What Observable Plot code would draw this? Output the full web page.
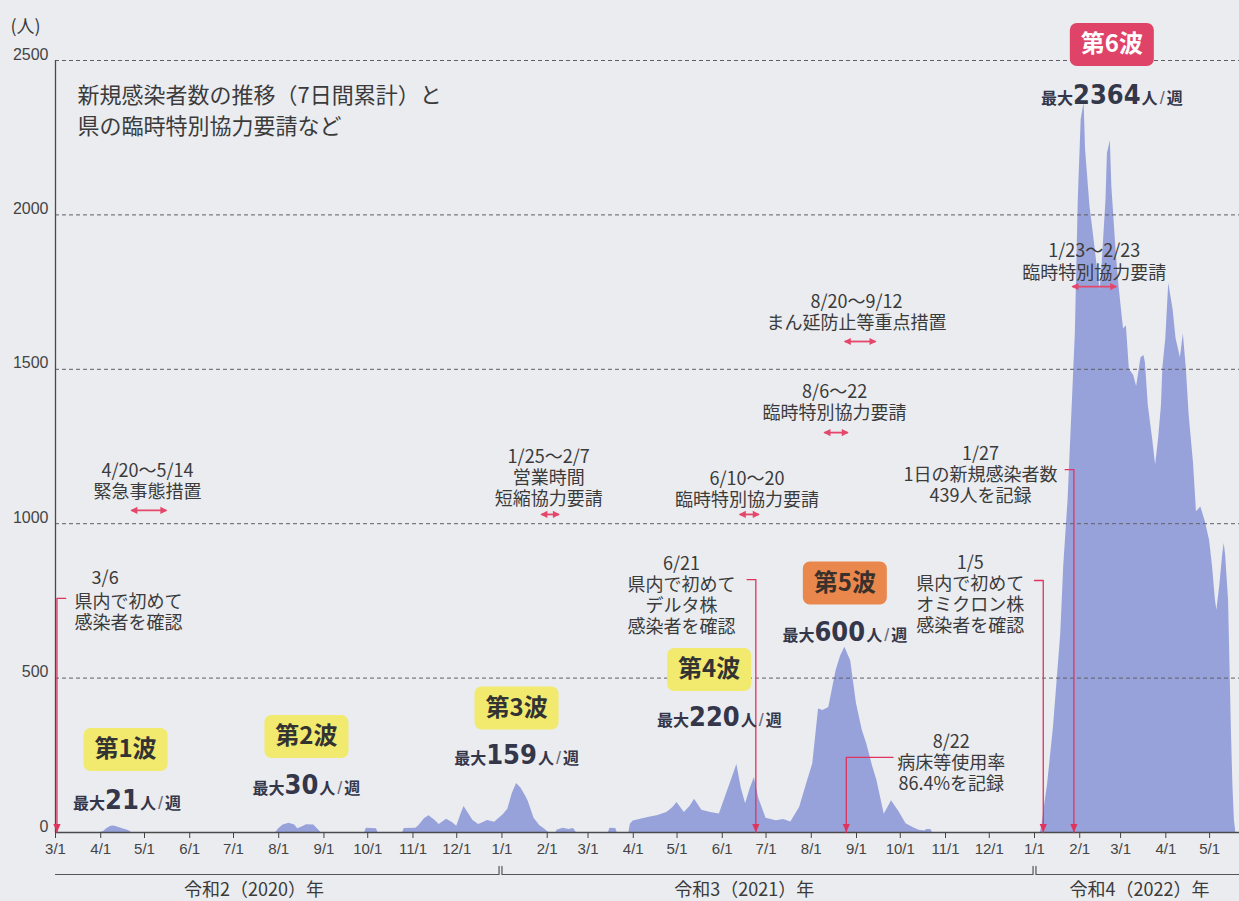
<!DOCTYPE html>
<html><head><meta charset="utf-8">
<script src="https://cdn.jsdelivr.net/npm/d3@7"></script>
<script src="https://cdn.jsdelivr.net/npm/@observablehq/plot@0.6"></script>
<style>
html,body{margin:0;padding:0;background:#eaecf0;}
#chart{width:1239px;height:901px;}
svg{display:block;}
</style></head><body><div id="chart"></div>
<script>
// ---- data (7-day cumulative new cases) ----
const caseDates = [
"2020-03-01","2020-04-01","2020-04-03","2020-04-05","2020-04-08","2020-04-10","2020-04-13","2020-04-16","2020-04-19","2020-04-21","2020-04-22",
"2020-07-30","2020-08-01","2020-08-04","2020-08-08","2020-08-12","2020-08-14","2020-08-17","2020-08-20","2020-08-25","2020-08-28","2020-08-30",
"2020-09-29","2020-09-30","2020-10-07","2020-10-08","2020-10-25","2020-10-26","2020-11-03",
"2020-11-05","2020-11-09","2020-11-12","2020-11-16","2020-11-19","2020-11-24","2020-11-28","2020-12-01","2020-12-04","2020-12-06","2020-12-09","2020-12-12","2020-12-16","2020-12-20","2020-12-22","2020-12-27",
"2021-01-02","2021-01-05","2021-01-08","2021-01-11","2021-01-14","2021-01-17","2021-01-19","2021-01-23","2021-01-27","2021-01-30","2021-02-02",
"2021-02-07","2021-02-08","2021-02-12","2021-02-16","2021-02-19","2021-02-21",
"2021-03-15","2021-03-16","2021-03-20","2021-03-21",
"2021-03-29","2021-03-30","2021-04-01","2021-04-06","2021-04-12","2021-04-18","2021-04-24","2021-04-28","2021-05-01","2021-05-06","2021-05-10","2021-05-13","2021-05-18","2021-05-24","2021-05-30",
"2021-06-04","2021-06-08","2021-06-11","2021-06-14","2021-06-17","2021-06-20","2021-06-23","2021-06-26","2021-07-01","2021-07-08","2021-07-13","2021-07-18",
"2021-07-24","2021-07-29","2021-08-02","2021-08-06","2021-08-09","2021-08-13","2021-08-18","2021-08-21","2021-08-24","2021-08-28","2021-09-01","2021-09-05","2021-09-08","2021-09-12","2021-09-15","2021-09-20","2021-09-23","2021-09-25","2021-09-30","2021-10-05","2021-10-10","2021-10-14","2021-10-18","2021-10-19","2021-10-22","2021-10-23",
"2022-01-05","2022-01-06","2022-01-10","2022-01-14","2022-01-19","2022-01-21","2022-01-24","2022-01-26","2022-01-27","2022-01-29","2022-01-31","2022-02-02","2022-02-04","2022-02-05","2022-02-08","2022-02-10","2022-02-13","2022-02-15","2022-02-16","2022-02-19","2022-02-20","2022-02-22","2022-02-23","2022-02-26","2022-02-28",
"2022-03-03","2022-03-05","2022-03-07","2022-03-10","2022-03-12","2022-03-15","2022-03-17","2022-03-18","2022-03-20","2022-03-23","2022-03-25","2022-03-27","2022-03-29","2022-03-30",
"2022-04-01","2022-04-03","2022-04-06","2022-04-08","2022-04-11","2022-04-13","2022-04-15","2022-04-17","2022-04-20","2022-04-22","2022-04-25","2022-04-28",
"2022-05-01","2022-05-03","2022-05-05","2022-05-06","2022-05-08","2022-05-10","2022-05-11","2022-05-12","2022-05-14","2022-05-15","2022-05-16","2022-05-17","2022-05-18","2022-05-19"
];
const caseCounts = [
0,0,3,12,20,21,17,12,8,4,0,
0,12,24,30,24,12,18,25,24,10,0,
0,14,12,0,0,13,14,
22,45,54,40,26,43,32,20,60,84,62,40,26,34,39,33,
58,75,125,159,144,120,101,46,22,12,0,
0,8,14,10,13,0,
0,14,13,0,
0,27,37,43,49,55,65,80,97,65,85,108,72,65,60,
126,180,220,144,93,140,178,111,46,38,42,34,
81,160,222,400,395,405,524,570,600,556,417,330,287,215,168,59,85,103,68,28,15,7,5,10,10,0,
0,20,158,341,644,860,1077,1293,1400,1618,2049,2309,2364,2211,2027,1952,1832,1757,1811,2049,2200,2240,2092,1877,1765,
1631,1640,1500,1480,1444,1537,1545,1522,1382,1273,1190,1273,1382,1506,
1600,1779,1693,1600,1537,1615,1506,1350,1195,1039,1054,1008,
946,862,752,720,800,900,937,898,752,535,321,150,40,0
];
const yTicks = [0, 500, 1000, 1500, 2000, 2500];
const gridValues = [500, 1000, 1500, 2000, 2500];
const waveNames = ["第1波", "第2波", "第3波", "第4波", "第5波", "第6波"];
const wavePeaks = [21, 30, 159, 220, 600, 2364];
const yearNames = ["令和2（2020）年", "令和3（2021）年", "令和4（2022）年"];
const titleText = "新規感染者数の推移（7日間累計）と\n県の臨時特別協力要請など";
const unitText = "(人)";

// ---- layout of annotations (anchors in data space) ----
const parse = d3.utcParse("%Y-%m-%d");
const xStart = parse("2020-03-01");
const xEnd = new Date(Date.UTC(2022, 4, 21, 12));

const notes = [
  {x: "2020-05-03", y: 1201, text: "4/20～5/14\n緊急事態措置"},
  {x: "2020-04-04", y: 852, text: "3/6"},
  {x: "2020-04-20", y: 777, text: "県内で初めて\n感染者を確認"},
  {x: "2021-02-02", y: 1247, text: "1/25～2/7\n営業時間\n短縮協力要請"},
  {x: "2021-06-18", y: 1175, text: "6/10～20\n臨時特別協力要請"},
  {x: "2021-08-17", y: 1457, text: "8/6～22\n臨時特別協力要請"},
  {x: "2021-09-01", y: 1749, text: "8/20～9/12\nまん延防止等重点措置"},
  {x: "2021-05-04", y: 900, text: "6/21\n県内で初めて\nデルタ株\n感染者を確認"},
  {x: "2021-11-05", y: 324, text: "8/22\n病床等使用率\n86.4%を記録"},
  {x: "2021-11-25", y: 1256, text: "1/27\n1日の新規感染者数\n439人を記録"},
  {x: "2021-11-18", y: 903, text: "1/5\n県内で初めて\nオミクロン株\n感染者を確認"},
  {x: "2022-02-11", y: 1911, text: "1/23～2/23\n臨時特別協力要請"}
];
const ranges = [
  {x1: "2020-04-22", x2: "2020-05-16", y: 1043},
  {x1: "2021-01-28", x2: "2021-02-09", y: 1030},
  {x1: "2021-06-13", x2: "2021-06-26", y: 1030},
  {x1: "2021-08-10", x2: "2021-08-26", y: 1295},
  {x1: "2021-08-24", x2: "2021-09-14", y: 1590},
  {x1: "2022-01-27", x2: "2022-02-26", y: 1768}
];
const pointers = [
  {from: "2020-03-08", to: "2020-03-02", y: 758},
  {from: "2021-06-18", to: "2021-06-24", y: 819},
  {from: "2021-09-26", to: "2021-08-25", y: 243},
  {from: "2022-01-22", to: "2022-01-28", y: 1175},
  {from: "2022-01-01", to: "2022-01-07", y: 816}
];
const waveLayout = [
  {x: "2020-04-18", y: 269, fill: "#f1ea6e", color: "#333333"},
  {x: "2020-08-20", y: 311, fill: "#f1ea6e", color: "#333333"},
  {x: "2021-01-11", y: 403, fill: "#f1ea6e", color: "#333333"},
  {x: "2021-05-23", y: 528, fill: "#f1ea6e", color: "#333333"},
  {x: "2021-08-24", y: 808, fill: "#e9874c", color: "#3a302c"},
  {x: "2022-02-23", y: 2552, fill: "#df4368", color: "#ffffff"}
];
const peakLayout = [
  {x: "2020-04-19", y: 94},
  {x: "2020-08-20", y: 142},
  {x: "2021-01-11", y: 240},
  {x: "2021-05-30", y: 363},
  {x: "2021-08-24", y: 638},
  {x: "2022-02-23", y: 2377}
];
const yearLayout = ["2020-07-15", "2021-06-16", "2022-03-14"];
const bracketY = -136, bracketTop = -110;
const brackets = [
  [["2020-03-01", bracketY], ["2020-12-30", bracketY], ["2020-12-30", bracketTop]],
  [["2021-01-01", bracketTop], ["2021-01-01", bracketY], ["2021-12-31", bracketY], ["2021-12-31", bracketTop]],
  [["2022-01-02", bracketTop], ["2022-01-02", bracketY], ["2022-05-21", bracketY]]
];

// ---- derived tables ----
const series = caseDates.map((d, i) => ({date: parse(d), value: caseCounts[i]}));
const waves = waveNames.map((n, i) => ({...waveLayout[i], name: n, date: parse(waveLayout[i].x)}));
const peaks = wavePeaks.map((p, i) => ({date: parse(peakLayout[i].x), y: peakLayout[i].y, label: `最大|${p}|人|/|週`}));
const years = yearNames.map((n, i) => ({name: n, date: parse(yearLayout[i])}));
const bracketPts = brackets.flatMap((g, gi) => g.map(([d, v]) => ({g: gi, date: parse(d), v})));
const pointerPts = pointers.flatMap((p, i) => [
  {g: i, date: parse(p.from), v: p.y}, {g: i, date: parse(p.to), v: p.y}, {g: i, date: parse(p.to), v: 0}
]);
const monthTicks = d3.utcMonth.range(xStart, xEnd);

// ---- symbols ----
function roundBox(w, h, r) {
  return {draw(ctx) {
    const x0 = -w / 2, y0 = -h / 2, x1 = w / 2, y1 = h / 2;
    ctx.moveTo(x0 + r, y0); ctx.lineTo(x1 - r, y0); ctx.arcTo(x1, y0, x1, y0 + r, r);
    ctx.lineTo(x1, y1 - r); ctx.arcTo(x1, y1, x1 - r, y1, r);
    ctx.lineTo(x0 + r, y1); ctx.arcTo(x0, y1, x0, y1 - r, r);
    ctx.lineTo(x0, y0 + r); ctx.arcTo(x0, y0, x0 + r, y0, r); ctx.closePath();
  }};
}
const downHead = {draw(ctx) { ctx.moveTo(0, 0); ctx.lineTo(-3.6, -8.5); ctx.lineTo(3.6, -8.5); ctx.closePath(); }};
const leftHead = {draw(ctx) { ctx.moveTo(-1, 0); ctx.lineTo(6, -3.6); ctx.lineTo(6, 3.6); ctx.closePath(); }};
const rightHead = {draw(ctx) { ctx.moveTo(1, 0); ctx.lineTo(-6, -3.6); ctx.lineTo(-6, 3.6); ctx.closePath(); }};

const RED = "#e0335e";
const ARROW = "#e5476a";
const TXT = "#3b3b3b";

const plot = Plot.plot({
  width: 1239, height: 901,
  marginLeft: 55, marginRight: 0, marginTop: 60, marginBottom: 69,
  x: {type: "utc", domain: [xStart, xEnd]},
  y: {domain: [0, 2500]},
  style: {background: "transparent", fontFamily: "'Noto Sans CJK JP', 'Noto Sans', sans-serif", fontSize: "15px", color: "#444", overflow: "visible"},
  marks: [
    Plot.areaY(series, {x: "date", y: "value", fill: "#98a2da", curve: "linear"}),
    Plot.ruleY(gridValues, {stroke: "#5f5f66", strokeWidth: 1, strokeDasharray: "4,3"}),
    Plot.ruleY([0], {stroke: "#4a4a4a", strokeWidth: 1.3}),
    Plot.ruleX([xStart], {y1: 0, y2: 2500, stroke: "#4a4a4a", strokeWidth: 1.3}),
    Plot.axisX({ticks: monthTicks, tickFormat: d => `${d.getUTCMonth() + 1}/1`, tickSize: 6, tickPadding: 5, label: null, fontSize: 15}),
    Plot.axisY({ticks: yTicks, tickFormat: d => String(d), tickSize: 0, tickPadding: 7, dy: -6, label: null, fontSize: 16}),
    Plot.text([unitText], {text: d => d, frameAnchor: "top-left", dx: -45, dy: -33, textAnchor: "start", lineAnchor: "middle", fontSize: 18, fill: TXT}),
    Plot.text([titleText], {text: d => d, frameAnchor: "top-left", dx: 22, dy: 21, textAnchor: "start", lineAnchor: "top", fontSize: 22, lineHeight: 1.4, fill: TXT}),
    // year brackets and labels
    Plot.line(bracketPts, {x: "date", y: "v", z: "g", stroke: "#555", strokeWidth: 1.2}),
    Plot.text(years, {x: "date", text: "name", frameAnchor: "bottom", dy: 58, lineAnchor: "middle", fontSize: 18, fill: TXT}),
    // annotation texts
    Plot.text(notes, {x: d => parse(d.x), y: "y", text: "text", textAnchor: "middle", lineAnchor: "top", fontSize: 18, lineHeight: 1.18, fill: TXT}),
    // double arrows
    Plot.link(ranges, {x1: d => parse(d.x1), x2: d => parse(d.x2), y1: "y", y2: "y", stroke: ARROW, strokeWidth: 1.8}),
    Plot.dot(ranges, {x: d => parse(d.x1), y: "y", symbol: leftHead, fill: ARROW, stroke: "none"}),
    Plot.dot(ranges, {x: d => parse(d.x2), y: "y", symbol: rightHead, fill: ARROW, stroke: "none"}),
    // pointer arrows
    Plot.line(pointerPts, {x: "date", y: "v", z: "g", stroke: RED, strokeWidth: 1.3}),
    Plot.dot(pointers, {x: d => parse(d.to), y: 0, symbol: downHead, fill: RED, stroke: "none"}),
    // wave boxes
    Plot.dot(waves, {x: "date", y: "y", symbol: roundBox(84, 43, 7), fill: "fill", stroke: "none"}),
    Plot.text(waves, {x: "date", y: "y", text: "name", fill: "color", fontSize: 24, fontWeight: "bold", lineAnchor: "middle"}),
    // peak labels
    Plot.text(peaks, {x: "date", y: "y", text: "label", fontSize: 16, lineAnchor: "middle", fill: "#34364a"})
  ]
});

// rich text for peak labels
const partStyles = [
  {size: 16, weight: "bold"},
  {size: 27, weight: "bold", family: "'Liberation Sans Narrow','DejaVu Sans Condensed','Roboto Condensed',Roboto,sans-serif"},
  {size: 16, weight: "bold", dx: 1},
  {size: 18, weight: "normal", fill: "#6a6a78", family: "'Liberation Sans', Arial, sans-serif", dx: 2},
  {size: 16, weight: "bold", dx: 2}
];
d3.select(plot).selectAll("text").each(function() {
  const s = this.textContent;
  if (s.indexOf("|") < 0) return;
  const parts = s.split("|");
  const sel = d3.select(this);
  sel.text(null);
  parts.forEach((p, i) => {
    const st = partStyles[i];
    const t = sel.append("tspan").text(p).attr("font-size", st.size).attr("font-weight", st.weight);
    if (st.family) t.attr("font-family", st.family);
    if (st.fill) t.attr("fill", st.fill);
    if (st.dx) t.attr("dx", st.dx);
  });
});
d3.select(plot).selectAll('[aria-label="x-axis tick label"] text, [aria-label="y-axis tick label"] text, [aria-label="x-axis tick label"], [aria-label="y-axis tick label"]')
  .attr("font-family", "'Liberation Sans', Arial, sans-serif");

document.getElementById("chart").appendChild(plot);
</script>
</body></html>
